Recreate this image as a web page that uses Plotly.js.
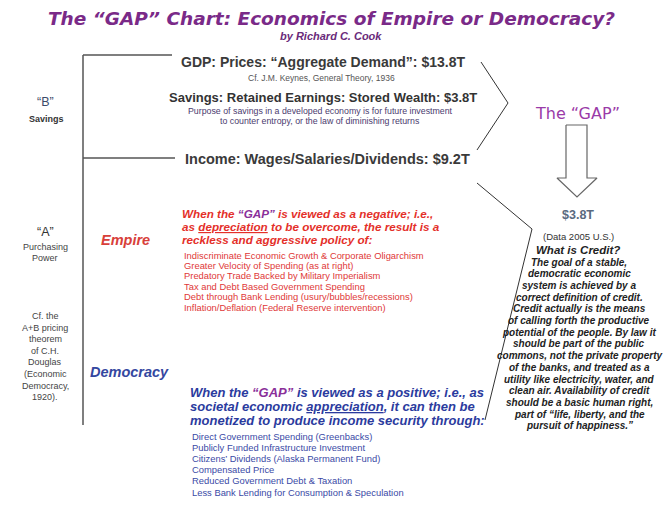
<!DOCTYPE html>
<html>
<head>
<meta charset="utf-8">
<script src="https://cdn.plot.ly/plotly-3.0.1.min.js"></script>
<style>html,body{margin:0;padding:0;background:#fff;}#chart{width:665px;height:511px;}</style>
</head>
<body>
<div id="chart"></div>
<script>
// ---- values (text content of the diagram) ----
const gdpValue = 13.8;       // $ trillions
const savingsValue = 3.8;    // $ trillions
const incomeValue = 9.2;     // $ trillions
const gapValue = 3.8;        // $ trillions
const dataYear = 2005;

const titleText = 'The “GAP” Chart: Economics of Empire or Democracy?';
const authorText = 'by Richard C. Cook';
const leftB = ['“B”', 'Savings'];
const leftA = ['“A”', 'Purchasing', 'Power'];
const leftCf = ['Cf. the', 'A+B pricing', 'theorem', 'of C.H.', 'Douglas', '(Economic', 'Democracy,', '1920).'];
const empireIntro = ['When the “GAP” is viewed as a negative; i.e.,',
  'as <u>depreciation</u> to be overcome, the result is a',
  'reckless and aggressive policy of:'];
const empireList = ['Indiscriminate Economic Growth & Corporate Oligarchism',
  'Greater Velocity of Spending (as at right)',
  'Predatory Trade Backed by Military Imperialism',
  'Tax and Debt Based Government Spending',
  'Debt through Bank Lending (usury/bubbles/recessions)',
  'Inflation/Deflation (Federal Reserve intervention)'];
const democracyIntro = ['When the “GAP” is viewed as a positive; i.e., as',
  'societal economic <u>appreciation</u>, it can then be',
  'monetized to produce income security through:'];
const democracyList = ['Direct Government Spending (Greenbacks)',
  'Publicly Funded Infrastructure Investment',
  'Citizens’ Dividends (Alaska Permanent Fund)',
  'Compensated Price',
  'Reduced Government Debt & Taxation',
  'Less Bank Lending for Consumption & Speculation'];
const creditText = ['The goal of a stable,', 'democratic economic', 'system is achieved by a',
  'correct definition of credit.', 'Credit actually is the means', 'of calling forth the productive',
  'potential of the people. By law it', 'should be part of the public',
  'commons, not the private property', 'of the banks, and treated as a',
  'utility like electricity, water, and', 'clean air. Availability of credit',
  'should be a basic human right,', 'part of “life, liberty, and the', 'pursuit of happiness.”'];
const purposeText = ['Purpose of savings in a developed economy is for future investment',
  'to counter entropy, or the law of diminishing returns'];

// ---- geometry (pixel-like diagram coordinates) ----
const bracketX = [83, 172, null, 83, 83, null, 83, 175];
const bracketY = [55, 55, null, 55, 425, null, 158, 158];
const chevTopX = [481, 508, 477];
const chevTopY = [62, 103, 150];
const chevBotX = [477, 532, 485];
const chevBotY = [183, 229, 420];
const arrowX = [566, 587, 587, 597, 577, 557, 566, 566];
const arrowY = [125, 125, 178, 178, 197, 178, 178, 125];

const ff = '"Liberation Sans", Arial, sans-serif';
const dv = '"DejaVu Sans", sans-serif';
const anns = [];
function add(x, y, text, size, color, opts) {
  opts = opts || {};
  const fam = opts.family || ff;
  delete opts.family;
  anns.push(Object.assign({x: x, y: y, xref: 'x', yref: 'y', text: text, showarrow: false,
    xanchor: 'center', yanchor: 'middle', font: {family: fam, size: size, color: color}}, opts));
}
function lines(arr, x, y0, dy, size, color, fmt, opts) {
  arr.forEach((t, i) => add(x, y0 + i * dy, fmt ? fmt(t) : t, size, color, Object.assign({}, opts || {})));
}
const bi = t => '<b><i>' + t + '</i></b>';
const gapPurple = t => t.replace('“GAP”', '<span style="color:#8a2f9a">“GAP”</span>');

add(331, 18, bi(titleText), 18.5, '#7a2a88', {family: dv});
add(331, 36, bi(authorText), 11, '#6a2a7a');

add(323, 62, '<b>GDP: Prices: “Aggregate Demand”: $' + gdpValue.toFixed(1) + 'T</b>', 14, '#3a3a3a');
add(321, 78, 'Cf. J.M. Keynes, General Theory, 1936', 8.5, '#555');
add(323, 97, '<b>Savings: Retained Earnings: Stored Wealth: $' + savingsValue.toFixed(1) + 'T</b>', 13, '#333');
lines(purposeText, 320, 111, 9.5, 8.8, '#4a3b6e');
add(327, 159, '<b>Income: Wages/Salaries/Dividends: $' + incomeValue.toFixed(1) + 'T</b>', 14.5, '#3a3a3a');

lines([leftB[0]], 45, 102, 0, 12.5, '#3b4a6a');
lines([leftB[1]], 46, 119, 0, 9, '#333', t => '<b>' + t + '</b>');
lines([leftA[0]], 45, 232, 0, 12.5, '#333');
lines(leftA.slice(1), 45, 247, 11, 9, '#444');
lines(leftCf, 45, 316, 11.6, 9, '#444');

add(125, 240, bi('Empire'), 14.5, '#d8403a');
add(129, 372, bi('Democracy'), 14.5, '#3447a0');

lines(empireIntro, 180, 213, 13, 11.7, '#e4302a', t => bi(gapPurple(t)), {xanchor: 'left'});
lines(empireList, 182, 255, 10.4, 9.4, '#e03838', null, {xanchor: 'left'});
lines(democracyIntro, 188, 392, 14, 13, '#2b3b9e', t => bi(gapPurple(t)), {xanchor: 'left'});
lines(democracyList, 190, 436, 11.2, 9.4, '#3a4aa6', null, {xanchor: 'left'});

add(577, 113, 'The “GAP”', 16, '#9a3aa8', {family: dv});
add(578, 215, '<b>$' + gapValue.toFixed(1) + 'T</b>', 12.5, '#5a6a80');
add(578, 236, '(Data ' + dataYear + ' U.S.)', 9.5, '#333');
add(578, 250, bi('What is Credit?'), 11.5, '#222');
lines(creditText, 579, 262, 11.7, 10, '#222', bi);

const traces = [
  {x: bracketX, y: bracketY, mode: 'lines', line: {color: '#555', width: 1.5}, hoverinfo: 'skip'},
  {x: chevTopX, y: chevTopY, mode: 'lines', line: {color: '#333', width: 1}, hoverinfo: 'skip'},
  {x: chevBotX, y: chevBotY, mode: 'lines', line: {color: '#333', width: 1}, hoverinfo: 'skip'},
  {x: arrowX, y: arrowY, mode: 'lines', line: {color: '#666', width: 1.2}, hoverinfo: 'skip'}
];
const layout = {
  width: 665, height: 511, margin: {l: 0, r: 0, t: 0, b: 0},
  paper_bgcolor: '#fff', plot_bgcolor: '#fff', showlegend: false,
  xaxis: {range: [0, 665], visible: false, fixedrange: true},
  yaxis: {range: [511, 0], visible: false, fixedrange: true},
  annotations: anns
};
Plotly.newPlot('chart', traces, layout, {staticPlot: true});
</script>
</body>
</html>
